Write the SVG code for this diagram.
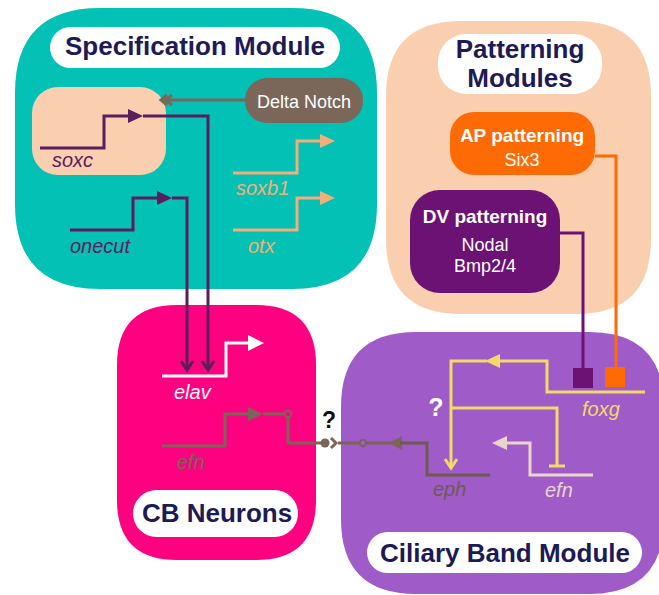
<svg xmlns="http://www.w3.org/2000/svg" width="659" height="595" viewBox="0 0 659 595">
<style>
.title{font-family:"Liberation Sans",Arial,sans-serif;font-weight:bold;font-size:26px;fill:#1D1A55;text-anchor:middle}
.gene{font-family:"Liberation Sans",Arial,sans-serif;font-style:italic;font-size:20px}
.box{font-family:"Liberation Sans",Arial,sans-serif;fill:#fff;text-anchor:middle}
.ln{fill:none;stroke-width:3;stroke-linejoin:miter;stroke-linecap:butt}
.pill{fill:#fff}
</style>
<rect width="659" height="595" fill="#fff"/>

<g id="specification-module">
<path d="M100,8 H292 Q377,8 377,93 V204 Q377,289 292,289 H100 Q15,289 15,204 V93 Q15,8 100,8 Z" fill="#03C1B4"/>
<rect class="pill" x="50" y="27" width="290" height="41" rx="20.5"/>
<text class="title" x="195" y="55">Specification Module</text>
</g>

<g id="soxc-box">
<rect x="32" y="87" width="134" height="88" rx="26" fill="#F9CFAF"/>
</g>

<g id="delta-notch">
<rect x="245" y="78" width="118" height="45" rx="22" fill="#7B6759"/>
<text class="box" x="304" y="108" font-size="18">Delta Notch</text>
</g>

<g id="patterning-modules">
<path d="M461,21 H576 Q651,21 651,96 V239 Q651,314 576,314 H461 Q386,314 386,239 V96 Q386,21 461,21 Z" fill="#F9CFAF"/>
<rect class="pill" x="438" y="34" width="164" height="60" rx="28"/>
<text class="title" x="520" y="58" font-size="25">Patterning</text>
<text class="title" x="520" y="87" font-size="25">Modules</text>
</g>

<g id="ap-patterning">
<rect x="450" y="112" width="145" height="63" rx="24" fill="#FE6B05"/>
<text class="box" x="522" y="142" font-size="19" font-weight="bold">AP patterning</text>
<text class="box" x="522" y="166" font-size="18">Six3</text>
</g>

<g id="dv-patterning">
<rect x="410" y="190" width="150" height="103" rx="30" fill="#6D1275"/>
<text class="box" x="485" y="223" font-size="19" font-weight="bold">DV patterning</text>
<text class="box" x="485" y="251" font-size="18">Nodal</text>
<text class="box" x="485" y="272" font-size="18">Bmp2/4</text>
</g>

<g id="cb-neurons">
<path d="M177,305 H256 Q316,305 316,365 V500 Q316,560 256,560 H177 Q117,560 117,500 V365 Q117,305 177,305 Z" fill="#FE0080"/>
<rect class="pill" x="133" y="490" width="165" height="47" rx="23.5"/>
<text class="title" x="217" y="522">CB Neurons</text>
</g>

<g id="ciliary-band-module">
<path d="M416,332 H589 Q664,332 664,407 V519 Q664,594 589,594 H416 Q341,594 341,519 V407 Q341,332 416,332 Z" fill="#9F5CC9"/>
<rect class="pill" x="367" y="532" width="275" height="41" rx="20.5"/>
<text class="title" x="505" y="562">Ciliary Band Module</text>
</g>

<g id="genes">
<text class="gene" x="52" y="167" fill="#5A1E5E">soxc</text>
<text class="gene" x="70" y="253" fill="#5A1E5E">onecut</text>
<text class="gene" x="236" y="195" fill="#F4AE78">soxb1</text>
<text class="gene" x="248" y="253" fill="#F4AE78">otx</text>
<text class="gene" x="174" y="399" fill="#fff">elav</text>
<text class="gene" x="177" y="469" fill="#7A6557">efn</text>
<text class="gene" x="433" y="496" fill="#6E5B50">eph</text>
<text class="gene" x="545" y="497" fill="#E8D5CB">efn</text>
<text class="gene" x="582" y="416" fill="#F2DA6A">foxg</text>
</g>

<g id="connectors">
<!-- Delta Notch -> soxc -->
<path class="ln" d="M245,100 H166" stroke="#7B6759"/>
<path class="ln" d="M172,95 L166,100 L172,105 M167,95 L161,100 L167,105" stroke="#7B6759"/>
<!-- soxc -->
<path class="ln" d="M40,148 H104 V116 H130" stroke="#5A1E5E"/>
<path d="M128,109 L143,116 L128,123 Z" fill="#5A1E5E"/>
<path class="ln" d="M143,116 H208 V370" stroke="#5A1E5E" stroke-width="2.5"/>
<path class="ln" d="M202,361 L208,370 L214,361" stroke="#5A1E5E"/>
<!-- onecut -->
<path class="ln" d="M70,230 H133 V198 H158" stroke="#5A1E5E"/>
<path d="M157,191 L172,198 L157,205 Z" fill="#5A1E5E"/>
<path class="ln" d="M172,198 H187 V370" stroke="#5A1E5E" stroke-width="2.5"/>
<path class="ln" d="M181,361 L187,370 L193,361" stroke="#5A1E5E"/>
<!-- soxb1, otx -->
<path class="ln" d="M233,173 H297 V141 H322" stroke="#F4AE78"/>
<path d="M320,134 L335,141 L320,148 Z" fill="#F4AE78"/>
<path class="ln" d="M233,230 H297 V198 H322" stroke="#F4AE78"/>
<path d="M320,191 L335,198 L320,205 Z" fill="#F4AE78"/>
<!-- elav -->
<path class="ln" d="M162,376 H226 V343 H250" stroke="#fff"/>
<path d="M248,335 L264,343 L248,351 Z" fill="#fff"/>
<!-- efn (CB) -> eph -->
<path class="ln" d="M162,446 H225 V414 H250" stroke="#7A6557"/>
<path d="M248,407 L263,414 L248,421 Z" fill="#7A6557"/>
<path class="ln" d="M263,414 H285 M288,417 V443 H322" stroke="#7A6557" stroke-width="2.5"/>
<circle cx="288" cy="414" r="3.2" fill="#FE0080" stroke="#7A6557" stroke-width="2"/>
<circle cx="325" cy="443" r="4.5" fill="#7A6557"/>
<path class="ln" d="M331,438 L336,443 L331,448" stroke="#7A6557" stroke-width="2.5"/>
<path class="ln" d="M338,443 H360 M366,443 H392" stroke="#7A6557" stroke-width="2.5"/>
<circle cx="363" cy="443" r="3.2" fill="#9F5CC9" stroke="#7A6557" stroke-width="2"/>
<path d="M402,436 L389,443 L402,450 Z" fill="#7A6557"/>
<path class="ln" d="M400,443 H427 V475 H490" stroke="#6E5B50"/>
<!-- foxg -->
<path class="ln" d="M645,392 H547 V361 H498" stroke="#F2DA6A"/>
<path d="M500,354 L485,361 L500,368 Z" fill="#F2DA6A"/>
<path class="ln" d="M487,361 H451 V467" stroke="#F2DA6A"/>
<path class="ln" d="M445,459 L451,468 L457,459" stroke="#F2DA6A"/>
<path class="ln" d="M451,408 H557 V466 M549,466 H565" stroke="#F2DA6A"/>
<!-- efn (ciliary) -->
<path class="ln" d="M593,475 H530 V443 H505" stroke="#E8D5CB"/>
<path d="M507,436 L492,443 L507,450 Z" fill="#E8D5CB"/>
<!-- AP -> foxg -->
<path class="ln" d="M595,156 H616 V370" stroke="#FE6B05"/>
<rect x="605" y="367" width="20" height="20" fill="#FE6B05"/>
<!-- DV -> foxg -->
<path class="ln" d="M560,233 H583 V370" stroke="#6D1275"/>
<rect x="573" y="368" width="20" height="20" fill="#6D1275"/>
</g>

<g id="question-marks">
<text x="329" y="428" font-family="'Liberation Sans',Arial,sans-serif" font-weight="bold" font-size="23" fill="#111" text-anchor="middle">?</text>
<text x="436" y="416" font-family="'Liberation Sans',Arial,sans-serif" font-weight="bold" font-size="25" fill="#fff" text-anchor="middle">?</text>
</g>
</svg>
